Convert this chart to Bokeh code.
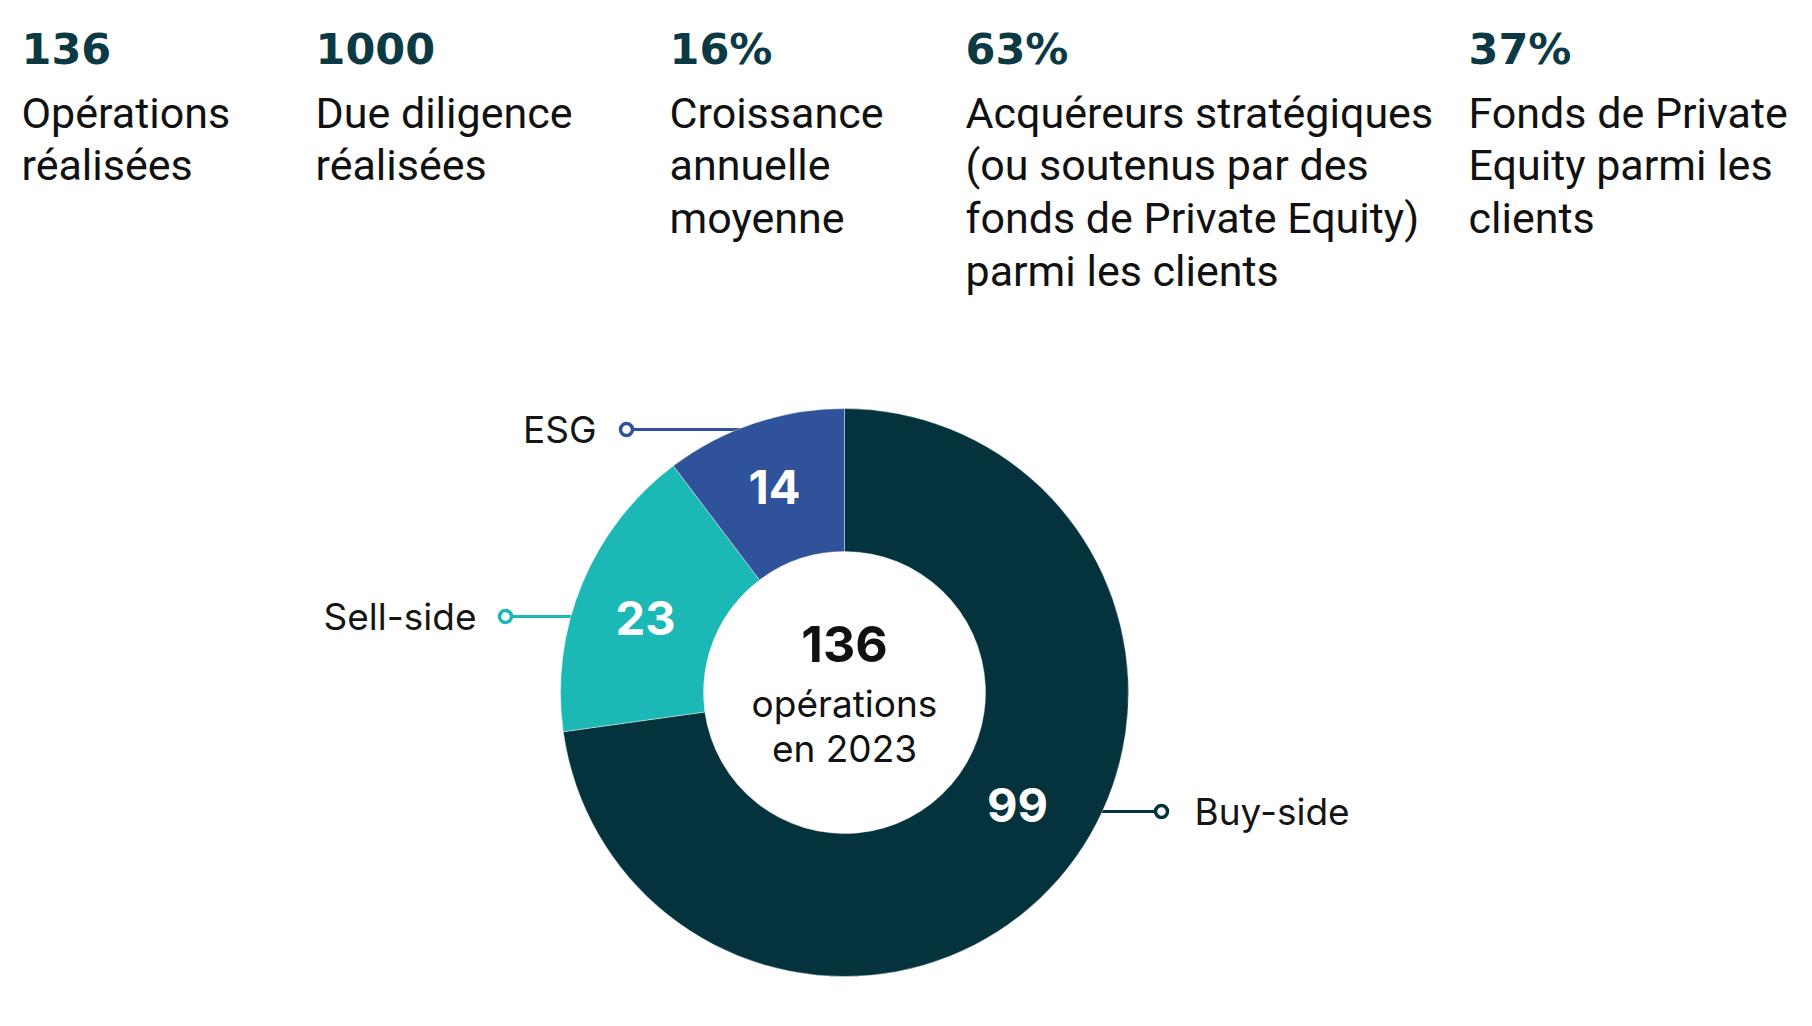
import numpy as np
from bokeh.plotting import figure
from bokeh.models import Range1d
from bokeh.core.properties import value
from bokeh.embed import file_html
from bokeh.resources import INLINE

# ---- data ----
stat_values = ["136", "1000", "16%", "63%", "37%"]
stat_labels = [
    ["Opérations", "réalisées"],
    ["Due diligence", "réalisées"],
    ["Croissance", "annuelle", "moyenne"],
    ["Acquéreurs stratégiques", "(ou soutenus par des",
     "fonds de Private Equity)", "parmi les clients"],
    ["Fonds de Private", "Equity parmi les", "clients"],
]
segments = ["Buy-side", "Sell-side", "ESG"]
counts = [99, 23, 14]
seg_colors = ["#04333d", "#1cb8b5", "#2f529b"]
center_total = "136"
center_lines = ["opérations", "en 2023"]

# ---- layout helpers (page pixels -> data) ----
W, H = 1796, 1010
def X(x): return x
def Y(y): return H + 1 - y

p = figure(width=W, height=H, x_range=Range1d(0, W), y_range=Range1d(0, H),
           output_backend="svg", toolbar_location=None, min_border=0)
p.axis.visible = False
p.grid.visible = False
p.outline_line_color = None
p.background_fill_color = "white"
p.border_fill_color = "white"

# ---- top key figures ----
col_x = [21, 315, 669, 965, 1468]
num_color = "#0b3a44"
for cx, v, lines in zip(col_x, stat_values, stat_labels):
    p.text(x=[X(cx)], y=[Y(49)], text=[v], text_font=value("DejaVu Sans"),
           text_font_style="bold", text_font_size="43px", text_color=num_color,
           text_align="left", text_baseline="middle")
    ys = [Y(113 + 52.8 * k) for k in range(len(lines))]
    p.text(x=[X(cx)] * len(lines), y=ys, text=lines, text_font=value("Roboto"),
           text_font_size="43px", text_color="#111111",
           text_align="left", text_baseline="middle")

# ---- donut ----
cx, cy = X(844), Y(693)
r_out, r_in = 284, 141
total = sum(counts)
fr = np.cumsum([0] + counts) / total
starts = np.pi / 2 - 2 * np.pi * fr[:-1]
ends = np.pi / 2 - 2 * np.pi * fr[1:]

# connectors (drawn first so they end under the ring)
conn = {
    "Buy-side": dict(x0=1161, x1=1090, y=812, text_x=1194, align="left"),
    "Sell-side": dict(x0=505, x1=580, y=617, text_x=476, align="right"),
    "ESG": dict(x0=626, x1=750, y=430, text_x=596, align="right"),
}
for name, col in zip(segments, seg_colors):
    c = conn[name]
    p.segment(x0=[X(c["x0"])], y0=[Y(c["y"])], x1=[X(c["x1"])], y1=[Y(c["y"])],
              line_color=col, line_width=3)

p.annular_wedge(x=cx, y=cy, inner_radius=r_in, outer_radius=r_out,
                start_angle=starts, end_angle=ends, direction="clock",
                fill_color=seg_colors, line_color="white", line_width=0.8,
                line_alpha=0.5)

for name, col in zip(segments, seg_colors):
    c = conn[name]
    p.scatter(x=[X(c["x0"])], y=[Y(c["y"])], marker="circle", size=12,
              fill_color="white", line_color=col, line_width=3.5)
    p.text(x=[X(c["text_x"])], y=[Y(c["y"])], text=[name], text_font=value("Inter"),
           text_font_size="37px", text_color="#151515",
           text_align=c["align"], text_baseline="middle")

# values inside the ring
val_pos = {"Buy-side": (1017, 805), "Sell-side": (645, 618), "ESG": (774, 487)}
for name, n in zip(segments, counts):
    vx, vy = val_pos[name]
    p.text(x=[X(vx)], y=[Y(vy)], text=[str(n)], text_font=value("Inter"),
           text_font_style="bold", text_font_size="47px", text_color="white",
           text_align="center", text_baseline="middle")

# centre label
p.text(x=[cx], y=[Y(644)], text=[center_total], text_font=value("Inter"),
       text_font_style="bold", text_font_size="50px", text_color="#111111",
       text_align="center", text_baseline="middle")
p.text(x=[cx, cx], y=[Y(704), Y(749)], text=center_lines, text_font=value("Inter"),
       text_font_size="37px", text_color="#111111",
       text_align="center", text_baseline="middle")

open("out.html", "w").write(file_html(p, INLINE))
